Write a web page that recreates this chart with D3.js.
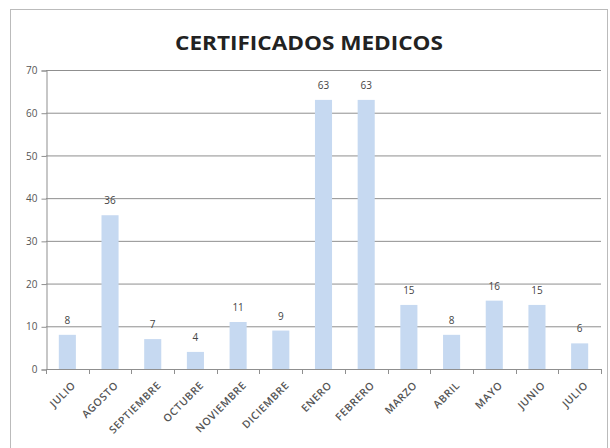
<!DOCTYPE html>
<html>
<head>
<meta charset="UTF-8">
<title>Certificados medicos</title>
<script src="https://cdn.jsdelivr.net/npm/d3@7"></script>
<style>
  body { margin: 0; background: #fff; }
  text { font-family: "Open Sans", "DejaVu Sans", sans-serif; }
</style>
</head>
<body>
<svg id="chart" width="610" height="448"></svg>
<script>
var months = ['JULIO', 'AGOSTO', 'SEPTIEMBRE', 'OCTUBRE', 'NOVIEMBRE', 'DICIEMBRE', 'ENERO',
              'FEBRERO', 'MARZO', 'ABRIL', 'MAYO', 'JUNIO', 'JULIO'];
var counts = [8, 36, 7, 4, 11, 9, 63, 63, 15, 8, 16, 15, 6];
var yTicks = [0, 10, 20, 30, 40, 50, 60, 70];

var svg = d3.select('#chart');
var plotLeft = 46, plotRight = 601, plotTop = 70, plotBottom = 369;

// outer frame
svg.append('rect')
   .attr('x', 10.5).attr('y', 9.5)
   .attr('width', 597).attr('height', 445)
   .attr('fill', 'none')
   .attr('stroke', '#bbb');

svg.append('text')
   .attr('x', 309).attr('y', 50)
   .attr('text-anchor', 'middle')
   .attr('font-size', 20)
   .attr('font-weight', 'bold')
   .attr('textLength', 268)
   .attr('lengthAdjust', 'spacingAndGlyphs')
   .attr('fill', '#222')
   .text('CERTIFICADOS MEDICOS');

var idx = d3.range(months.length);
var x = d3.scaleBand().domain(idx).range([plotLeft, plotRight]).paddingInner(0.6).paddingOuter(0.3);
var y = d3.scaleLinear().domain([0, 70]).range([plotBottom, plotTop]);

// gridlines
svg.append('g').selectAll('line').data(yTicks.slice(1)).enter().append('line')
   .attr('x1', plotLeft).attr('x2', plotRight)
   .attr('y1', function(d){ return y(d) + 0.5; })
   .attr('y2', function(d){ return y(d) + 0.5; })
   .attr('stroke', '#8f8f8f');

// y axis
var yAxis = svg.append('g')
   .attr('transform', 'translate(' + (plotLeft + 0.5) + ',0.5)')
   .call(d3.axisLeft(y).tickValues(yTicks).tickSize(5).tickPadding(4));
yAxis.select('.domain').attr('stroke', '#8f8f8f');
yAxis.selectAll('.tick line').attr('stroke', '#8f8f8f');
yAxis.selectAll('text').attr('font-size', 10).attr('fill', '#555')
   .style('font-family', '"Open Sans", sans-serif');

// bars
svg.append('g').selectAll('rect').data(counts).enter().append('rect')
   .attr('x', function(d, i){ return x(i); })
   .attr('y', function(d){ return y(d); })
   .attr('width', x.bandwidth())
   .attr('height', function(d){ return y(0) - y(d); })
   .attr('fill', '#c6d9f1');

// value labels
svg.append('g').selectAll('text').data(counts).enter().append('text')
   .attr('x', function(d, i){ return x(i) + x.bandwidth() / 2; })
   .attr('y', function(d){ return y(d) - 11; })
   .attr('text-anchor', 'middle')
   .attr('font-size', 10)
   .attr('fill', '#444')
   .text(function(d){ return d; });

// x axis baseline and ticks between categories
var edges = d3.range(months.length + 1).map(function(i){
  return plotLeft + i * (plotRight - plotLeft) / months.length;
});
svg.append('line')
   .attr('x1', plotLeft).attr('x2', plotRight)
   .attr('y1', plotBottom + 0.5).attr('y2', plotBottom + 0.5)
   .attr('stroke', '#8f8f8f');
svg.append('g').selectAll('line').data(edges).enter().append('line')
   .attr('x1', function(d){ return Math.round(d) + 0.5; })
   .attr('x2', function(d){ return Math.round(d) + 0.5; })
   .attr('y1', plotBottom).attr('y2', plotBottom + 5)
   .attr('stroke', '#8f8f8f');

// category labels
svg.append('g').selectAll('text').data(months).enter().append('text')
   .attr('transform', function(d, i){
     var cx = x(i) + x.bandwidth() / 2 + 9;
     return 'translate(' + cx + ',' + (plotBottom + 17) + ') rotate(-45)';
   })
   .attr('text-anchor', 'end')
   .attr('font-size', 10.5)
   .attr('font-weight', 600)
   .attr('letter-spacing', 0.6)
   .attr('fill', '#555')
   .text(function(d){ return d; });
</script>
</body>
</html>
